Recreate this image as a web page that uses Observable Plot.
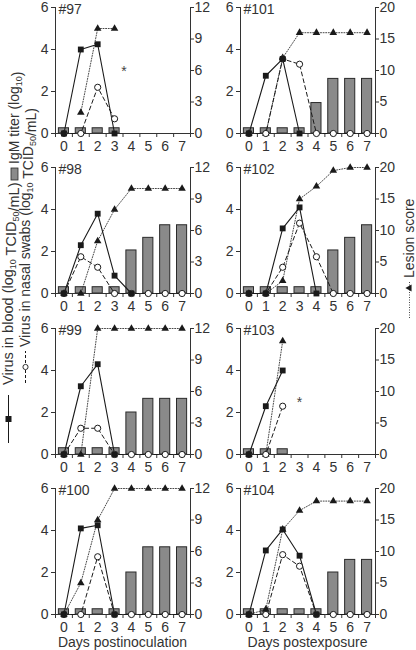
<!DOCTYPE html>
<html><head><meta charset="utf-8">
<script src="https://cdn.jsdelivr.net/npm/d3@7"></script>
<script src="https://cdn.jsdelivr.net/npm/@observablehq/plot@0.6"></script>
<style>
body{margin:0;background:#fff;font-family:"Liberation Sans",Arial,sans-serif;}
#wrap{position:relative;width:416px;height:650px;overflow:hidden;background:#fff;}
#wrap > div, #wrap > svg{position:absolute;}
</style></head><body><div id="wrap"></div>
<script>
// ---------- data ----------
const days = [0, 1, 2, 3, 4, 5, 6, 7];
const animals = ["#97", "#98", "#99", "#100", "#101", "#102", "#103", "#104"];
const lesionMax = [12, 12, 12, 12, 20, 20, 20, 20];
const lesionTicksLeft = [0, 3, 6, 9, 12];
const lesionTicksRight = [0, 5, 10, 15, 20];
const titerTicks = [0, 2, 4, 6];
// virus in blood (log10 TCID50/mL), days 0..7
const bloodVirus = [
  [0, 4.0, 4.25, 0, null, null, null, null],
  [0, 2.3, 3.8, 0.85, 0, null, null, null],
  [0, 3.25, 4.3, 0, null, null, null, null],
  [0, 4.1, 4.25, 0, null, null, null, null],
  [0, 2.75, 3.55, 0, null, null, null, null],
  [0, 0, 3.1, 4.1, 0, null, null, null],
  [0, 2.3, 4.0, null, null, null, null, null],
  [0, 3.05, 4.05, 2.8, 0, null, null, null]
];
// virus in nasal swabs (log10 TCID50/mL)
const nasalVirus = [
  [0, 0, 2.2, 0.7, null, null, null, null],
  [0, 1.75, 1.25, 0, 0, 0, 0, 0],
  [0, 1.25, 1.25, 0, 0, 0, 0, 0],
  [0, 0, 2.75, 0, 0, 0, 0, 0],
  [0, 0, 3.55, 3.3, 0, 0, 0, 0],
  [0, 0, 1.25, 3.35, 1.75, 0, 0, 0],
  [0, 0, 2.3, null, null, null, null, null],
  [0, 0, 2.85, 2.3, 0, 0, 0, 0]
];
// lesion score
const lesionScore = [
  [null, 2, 10, 10, null, null, null, null],
  [0, 0, 5, 8, 10, 10, 10, 10],
  [0, 0, 12, 12, 12, 12, 12, 12],
  [0, 3, 9, 12, 12, 12, 12, 12],
  [0, 0, 12, 16, 16, 16, 16, 16],
  [0, 0, 2, 15, 17, 19.5, 20, 20],
  [0, 0, 18, null, null, null, null, null],
  [0, 0.8, 13.5, 16.5, 18, 18, 18, 18]
];
// IgM titer (log10)
const igmTiter = [
  [0.25, 0.25, 0.25, 0.25, null, null, null, null],
  [0.3, 0.3, 0.3, 0.3, 2.05, 2.65, 3.25, 3.25],
  [0.3, 0.3, 0.3, 0.3, 2.0, 2.65, 2.65, 2.65],
  [0.25, 0.25, 0.25, 0.25, 2.0, 3.2, 3.2, 3.2],
  [0.25, 0.25, 0.25, 0.25, 1.45, 2.6, 2.6, 2.6],
  [0.3, 0.3, 0.3, 0.3, 0.3, 2.05, 2.65, 3.25],
  [0.25, 0.25, 0.25, null, null, null, null, null],
  [0.25, 0.25, 0.25, 0.25, 0.25, 2.0, 2.6, 2.6]
];
// death markers (*): animal, day, titer-axis height
const deathAnimal = ["#97", "#103"];
const deathDay = [3.55, 3.0];
const deathLevel = [3.15, 2.65];

// ---------- drawing ----------
const FONT = '"Liberation Sans", Arial, Helvetica, sans-serif';
const INK = "#1a1a1a";
const AX = "#333";
const wrap = document.getElementById("wrap");
const frameLeft = [55, 240];
const frameTop = [7, 167, 328, 488];
const ML = 25, MR = 22, MT = 8, MB = 26, PW = 135, PH = 126;
const bounds = d3.range(-0.5, 8, 1);

animals.forEach((id, i) => {
  const col = i < 4 ? 0 : 1, row = i % 4;
  const k = 6 / lesionMax[i];
  const lt = col === 0 ? lesionTicksLeft : lesionTicksRight;
  const rows = days.map((d, j) => ({
    day: d,
    blood: bloodVirus[i][j],
    nasal: nasalVirus[i][j],
    lesion: lesionScore[i][j] == null ? null : lesionScore[i][j] * k,
    igm: igmTiter[i][j]
  }));
  const deaths = deathAnimal.map((a, m) => ({a, day: deathDay[m], y: deathLevel[m]})).filter(d => d.a === id);
  const chart = Plot.plot({
    width: ML + PW + MR, height: MT + PH + MB,
    marginLeft: ML, marginRight: MR, marginTop: MT, marginBottom: MB,
    x: {domain: [-0.5, 7.5], axis: null},
    y: {domain: [0, 6], axis: null},
    style: {fontFamily: FONT, fontSize: "14px", color: AX, background: "transparent", overflow: "visible"},
    marks: [
      Plot.rectY(rows.filter(d => d.igm != null), {x1: d => d.day - 0.3, x2: d => d.day + 0.3, y1: 0, y2: "igm", fill: "#8a8a8a", stroke: "#2a2a2a", strokeWidth: 1}),
      Plot.ruleX([-0.5, 7.5], {stroke: AX, strokeWidth: 1}),
      Plot.ruleY([0], {stroke: AX, strokeWidth: 1}),
      Plot.axisY({anchor: "left", ticks: titerTicks, tickFormat: t => String(t), tickSize: 4, tickPadding: 3, label: null, stroke: AX}),
      Plot.axisY({anchor: "right", ticks: lt.map(t => t * k), tickFormat: t => String(Math.round(t / k)), tickSize: 3, tickPadding: 1, label: null, stroke: AX}),
      Plot.axisX({ticks: days, tickFormat: t => String(t), tickSize: 0, tickPadding: 8, label: null}),
      Plot.axisX({ticks: bounds, tickSize: 4, tickFormat: () => "", label: null, stroke: AX}),
      Plot.line(rows.filter(d => d.lesion != null), {x: "day", y: "lesion", stroke: "#333", strokeWidth: 0.9, strokeDasharray: "1,1.6"}),
      Plot.line(rows.filter(d => d.nasal != null), {x: "day", y: "nasal", stroke: INK, strokeWidth: 1, strokeDasharray: "4,3"}),
      Plot.line(rows.filter(d => d.blood != null), {x: "day", y: "blood", stroke: INK, strokeWidth: 1.1}),
      Plot.dot(rows.filter(d => d.lesion != null), {x: "day", y: "lesion", symbol: "triangle", r: 2.8, fill: INK, stroke: "none"}),
      Plot.dot(rows.filter(d => d.nasal != null), {x: "day", y: "nasal", symbol: "circle", r: 3.1, fill: "#fff", stroke: INK, strokeWidth: 1}),
      Plot.dot(rows.filter(d => d.blood != null), {x: "day", y: "blood", symbol: "square", r: 3.3, fill: INK, stroke: "none"}),
      Plot.text([id], {frameAnchor: "top-left", dx: 3, dy: -3, fill: AX, fontSize: 14}),
      Plot.text(deaths, {x: "day", y: "y", text: () => "*", fill: "#444", fontSize: 14, dy: 4})
    ]
  });
  chart.style.position = "absolute";
  chart.style.left = (frameLeft[col] - ML) + "px";
  chart.style.top = (frameTop[row] - MT) + "px";
  wrap.appendChild(chart);
});

// ---------- axis titles / legend keys ----------
const ov = d3.select(wrap).append("svg")
  .attr("width", 416).attr("height", 650)
  .style("left", "0px").style("top", "0px").style("pointer-events", "none")
  .attr("font-family", FONT).attr("font-size", 14).attr("fill", AX);

function rotLabel(x, y, start, parts, size) {
  const g = ov.append("g").attr("transform", `translate(${x},${y}) rotate(-90)`);
  const t = g.append("text").attr("x", start).attr("y", 0).attr("font-size", size || 14);
  parts.forEach(p => {
    if (p.sub) {
      t.append("tspan").attr("font-size", 9).attr("dy", 3).text(p.t);
      t.append("tspan").attr("dy", -3).text("");
    } else t.append("tspan").text(p.t);
  });
  return g;
}
const unitParts = [{t: " (log"}, {t: "10", sub: true}, {t: " TCID"}, {t: "50", sub: true}, {t: "/mL)"}];

// Virus in blood
let g = rotLabel(13, 443, 58, [{t: "Virus in blood"}, ...unitParts], 14.5);
g.append("line").attr("x1", 0).attr("x2", 48).attr("y1", -4.5).attr("y2", -4.5).attr("stroke", INK).attr("stroke-width", 1);
g.append("rect").attr("x", 21).attr("y", -7.5).attr("width", 6).attr("height", 6).attr("fill", INK);

// IgM titer
g = rotLabel(19, 180, 16, [{t: "IgM titer (log"}, {t: "10", sub: true}, {t: ")"}]);
g.append("rect").attr("x", 0).attr("y", -8).attr("width", 12).attr("height", 7).attr("fill", "#8a8a8a").attr("stroke", "#2a2a2a").attr("stroke-width", 0.8);

// Virus in nasal swabs
g = rotLabel(30, 383, 36, [{t: "Virus in nasal swabs"}, ...unitParts]);
g.append("line").attr("x1", 0).attr("x2", 32).attr("y1", -4.5).attr("y2", -4.5).attr("stroke", INK).attr("stroke-width", 1).attr("stroke-dasharray", "3,2");
g.append("circle").attr("cx", 16).attr("cy", -4.5).attr("r", 2.6).attr("fill", "#fff").attr("stroke", INK).attr("stroke-width", 0.9);

// Lesion score (right)
g = rotLabel(414, 318, 40, [{t: "Lesion score"}]);
g.append("line").attr("x1", 0).attr("x2", 36).attr("y1", -4.5).attr("y2", -4.5).attr("stroke", "#333").attr("stroke-width", 0.9).attr("stroke-dasharray", "1,1.5");
g.append("path").attr("d", d3.symbol(d3.symbolTriangle, 22)()).attr("transform", "translate(30,-4.5)").attr("fill", INK);

// x titles
ov.append("text").attr("x", 122.5).attr("y", 647).attr("text-anchor", "middle").text("Days postinoculation");
ov.append("text").attr("x", 307.5).attr("y", 647).attr("text-anchor", "middle").text("Days postexposure");
</script></body></html>
